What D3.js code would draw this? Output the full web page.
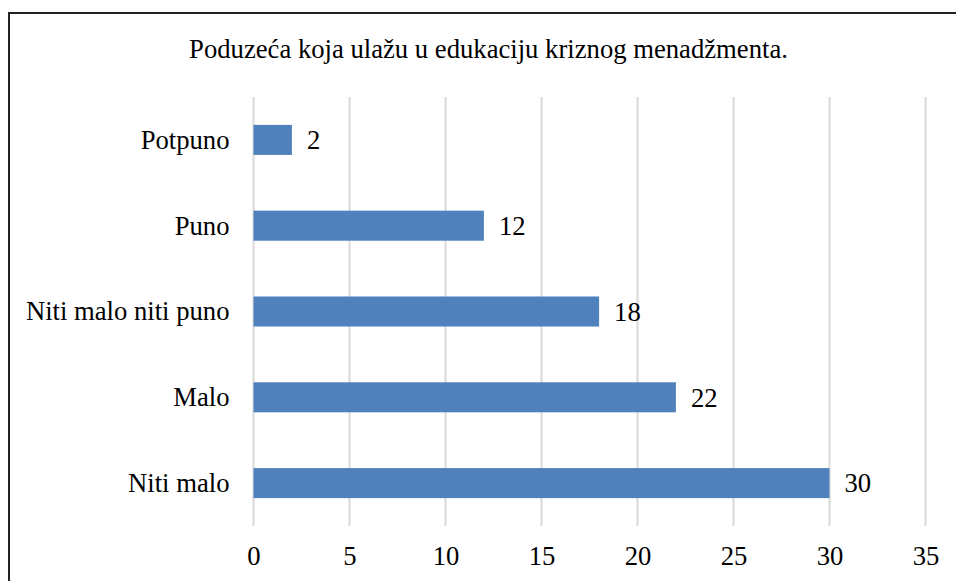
<!DOCTYPE html>
<html>
<head>
<meta charset="utf-8">
<script src="https://cdn.jsdelivr.net/npm/d3@7"></script>
<style>
  body { margin: 0; background: #fff; }
</style>
</head>
<body>
<div id="chart"></div>
<script>
// podaci
var kategorije = ["Potpuno", "Puno", "Niti malo niti puno", "Malo", "Niti malo"];
var vrijednosti = [2, 12, 18, 22, 30];
var xTicks = [0, 5, 10, 15, 20, 25, 30, 35];
var naslov = "Poduzeća koja ulažu u edukaciju kriznog menadžmenta.";

var W = 956, H = 581;
var fs = "26.67px";
var ff = "'Liberation Serif'";
var svg = d3.select("#chart").append("svg")
    .attr("width", W)
    .attr("height", H);

/*okvir grafikona*/
svg.append("rect")
    .attr("x", 9).attr("y", 13)
    .attr("width", 980).attr("height", 600)
    .attr("fill", "#fff")
    .attr("stroke", "#222")
    .attr("stroke-width", 2);

svg.append("text")
    .attr("x", 488.5).attr("y", 58)
    .attr("text-anchor", "middle")
    .style("font-family", ff)
    .style("font-size", fs)
    .attr("fill", "#000")
    .text(naslov);

/*ploha*/
var pLeft = 253.5, pRight = 925.5, pTop = 97, pBottom = 526;

var x = d3.scaleLinear().domain([0, 35]).range([pLeft, pRight]);
var y = d3.scaleBand().domain(kategorije).range([pTop, pBottom]).paddingInner(0.65).paddingOuter(0.325);

/*mreža*/
svg.append("g").selectAll("line")
    .data(xTicks)
    .join("line")
    .attr("x1", d => x(d)).attr("x2", d => x(d))
    .attr("y1", pTop).attr("y2", pBottom)
    .attr("stroke", "#d9d9d9")
    .attr("stroke-width", 2);

/*x os*/
var xAxis = d3.axisBottom(x).tickValues(xTicks).tickSize(0).tickPadding(0);
var gx = svg.append("g")
    .attr("transform", "translate(0," + 546 + ")")
    .call(xAxis);
gx.select(".domain").remove();
gx.selectAll("text")
    .style("font-size", fs)
    .style("font-family", ff)
    .attr("fill", "#000");

/*y os*/
var yAxis = d3.axisLeft(y).tickSize(0).tickPadding(24);
var gy = svg.append("g")
    .attr("transform", "translate(" + pLeft + ",0)")
    .call(yAxis);
gy.select(".domain").remove();
gy.selectAll("text")
    .attr("dy", "0.33em")
    .style("font-size", fs)
    .style("font-family", ff)
    .attr("fill", "#000");

/*stupci*/
svg.append("g").selectAll("rect")
    .data(kategorije)
    .join("rect")
    .attr("x", x(0))
    .attr("y", d => y(d))
    .attr("width", (d, i) => x(vrijednosti[i]) - x(0))
    .attr("height", y.bandwidth())
    .attr("fill", "#4f81bd");

/*oznake vrijednosti*/
svg.append("g").selectAll("text")
    .data(kategorije)
    .join("text")
    .attr("x", (d, i) => x(vrijednosti[i]) + 15)
    .attr("y", d => y(d) + y.bandwidth() / 2)
    .attr("dy", "0.35em")
    .style("font-family", ff)
    .style("font-size", fs)
    .attr("fill", "#000")
    .text((d, i) => vrijednosti[i]);
</script>
</body>
</html>
